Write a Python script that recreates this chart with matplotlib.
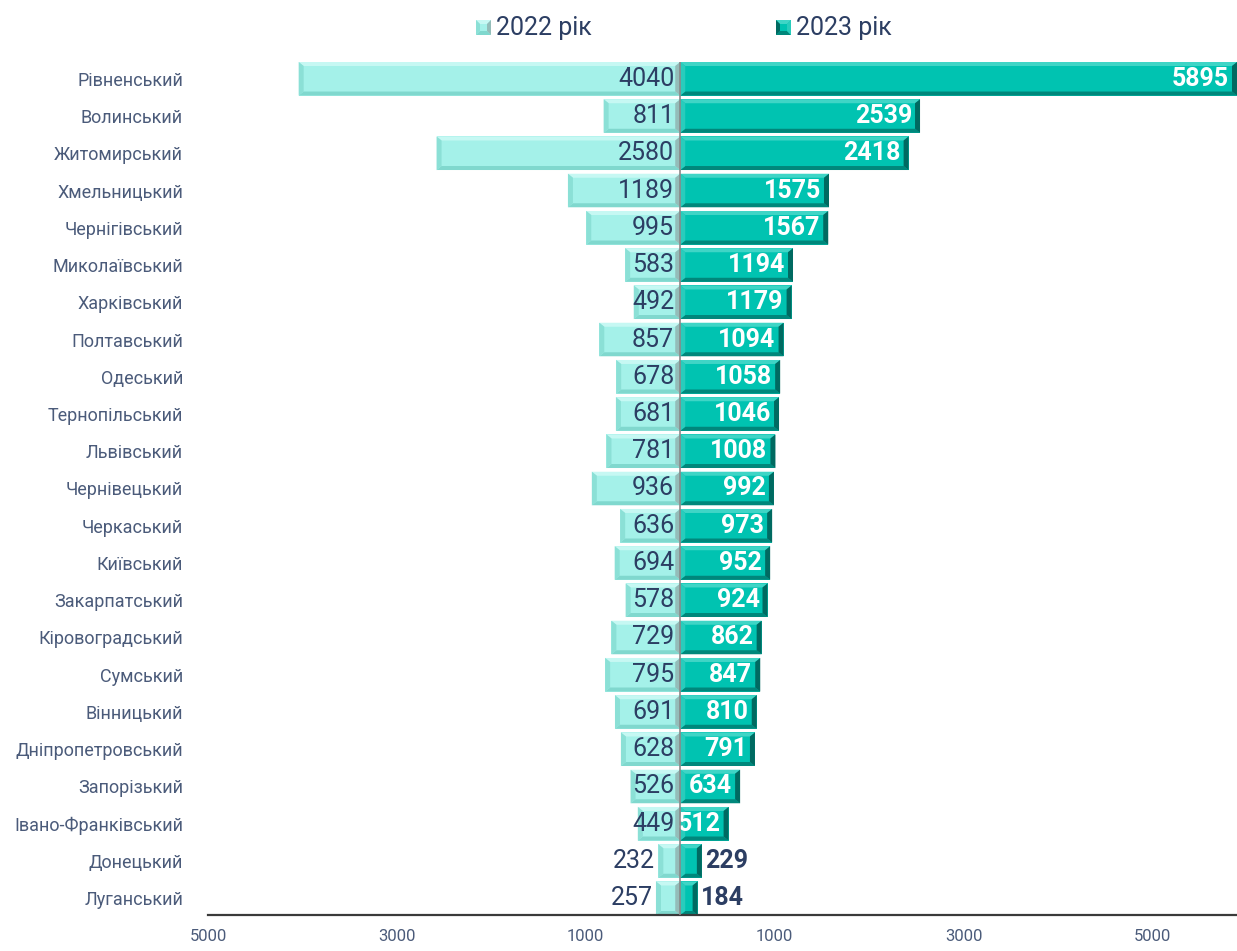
import numpy as np
import matplotlib.pyplot as plt
from matplotlib.patches import Polygon

plt.rcParams['font.family'] = ['Roboto', 'DejaVu Sans']

regions = ['Рівненський', 'Волинський', 'Житомирський', 'Хмельницький', 'Чернігівський',
           'Миколаївський', 'Харківський', 'Полтавський', 'Одеський', 'Тернопільський',
           'Львівський', 'Чернівецький', 'Черкаський', 'Київський', 'Закарпатський',
           'Кіровоградський', 'Сумський', 'Вінницький', 'Дніпропетровський', 'Запорізький',
           'Івано-Франківський', 'Донецький', 'Луганський']
v2022 = [4040, 811, 2580, 1189, 995, 583, 492, 857, 678, 681, 781, 936, 636, 694, 578,
         729, 795, 691, 628, 526, 449, 232, 257]
v2023 = [5895, 2539, 2418, 1575, 1567, 1194, 1179, 1094, 1058, 1046, 1008, 992, 973, 952,
         924, 862, 847, 810, 791, 634, 512, 229, 184]
ticks = [-5000, -3000, -1000, 1000, 3000, 5000]
tick_labels = ['5000', '3000', '1000', '1000', '3000', '5000']
series_names = ['2022 рік', '2023 рік']

TXT = '#2c3e63'
TICK = '#4b5b7a'
# face, top, bottom, outer end, inner end
C22 = ['#a4f1e9', '#c6f8f3', '#80d8ce', '#8be0d6', '#94bdb9']
C23 = ['#00c3b1', '#3fd5c6', '#00877b', '#006a61', '#29ccbc']

W, H = 1237, 951
fig = plt.figure(figsize=(W / 100, H / 100), dpi=100)
ax_l, ax_r, ax_t, ax_b = 208, 1237, 62, 915
ax = fig.add_axes([ax_l / W, 1 - ax_b / H, (ax_r - ax_l) / W, (ax_b - ax_t) / H])

n = len(regions)
y = np.arange(n)
xmin, xmax = -5000, 5895
ymin, ymax = n - 1 + 0.45, -0.45
ax.set_xlim(xmin, xmax)
ax.set_ylim(ymin, ymax)
bh = 0.9

# bevel size in data units
px_x = (xmax - xmin) / (ax_r - ax_l)
px_y = (ymin - ymax) / (ax_b - ax_t)


def bevel(target, x0, x1, y0, y1, cols, bx, by, tr):
    # x0 outer end, x1 inner end; y0 top, y1 bottom (screen)
    face, top, bot, outer, inner = cols
    sx = 1 if x1 > x0 else -1
    bx = min(bx, abs(x1 - x0) / 2.2) * sx
    sy = 1 if y1 > y0 else -1
    by = by * sy
    polys = [
        ([(x0, y0), (x1, y0), (x1, y1), (x0, y1)], face),
        ([(x0, y0), (x1, y0), (x1 - bx, y0 + by), (x0 + bx, y0 + by)], top),
        ([(x0, y1), (x1, y1), (x1 - bx, y1 - by), (x0 + bx, y1 - by)], bot),
        ([(x0, y0), (x0 + bx, y0 + by), (x0 + bx, y1 - by), (x0, y1)], outer),
        ([(x1, y0), (x1 - bx, y0 + by), (x1 - bx, y1 - by), (x1, y1)], inner),
    ]
    for pts, c in polys:
        p = Polygon(pts, closed=True, facecolor=c, edgecolor='none', transform=tr)
        if target is fig:
            fig.add_artist(p)
        else:
            target.add_patch(p)


for i in range(n):
    y0, y1 = y[i] - bh / 2, y[i] + bh / 2
    bevel(ax, -v2022[i], 0, y0, y1, C22, 5 * px_x, 4 * px_y, ax.transData)
    bevel(ax, v2023[i], 0, y0, y1, C23, 5 * px_x, 4 * px_y, ax.transData)

    # labels 2022
    if v2022[i] >= 300:
        ax.text(-6 * px_x, y[i], str(v2022[i]), ha='right', va='center',
                fontsize=18, color=TXT)
    else:
        ax.text(-v2022[i] - 3 * px_x, y[i], str(v2022[i]), ha='right', va='center',
                fontsize=18, color=TXT)
    # labels 2023
    if v2023[i] >= 300:
        ax.text(v2023[i] - 8 * px_x, y[i], str(v2023[i]), ha='right', va='center',
                fontsize=18, color='white', fontweight='bold')
    else:
        ax.text(v2023[i] + 3 * px_x, y[i], str(v2023[i]), ha='left', va='center',
                fontsize=18, color=TXT, fontweight='bold')

ax.axvline(0, color='#8a8a8a', lw=1.2, zorder=5)

for s in ['top', 'right', 'left']:
    ax.spines[s].set_visible(False)
ax.spines['bottom'].set_color('#3a3a3a')
ax.spines['bottom'].set_linewidth(1.6)

ax.set_yticks(y)
ax.set_yticklabels(regions, fontsize=13, color=TICK)
ax.tick_params(axis='y', length=0, pad=18)
ax.set_xticks(ticks)
ax.set_xticklabels(tick_labels, fontsize=12, color=TICK)
ax.tick_params(axis='x', length=0, pad=10)


# legend
def legend_item(xp, label, cols):
    size = 15
    x0, y0 = xp, 20
    bevel(fig, x0 / W, (x0 + size) / W, 1 - y0 / H, 1 - (y0 + size) / H, cols,
          4 / W, 4 / H, fig.transFigure)
    fig.text((x0 + size + 5) / W, 1 - (y0 + size / 2) / H, label, ha='left', va='center',
             fontsize=18, color=TXT)


legend_item(476, series_names[0], C22)
legend_item(776, series_names[1], C23)

fig.savefig('out.png', dpi=100)
